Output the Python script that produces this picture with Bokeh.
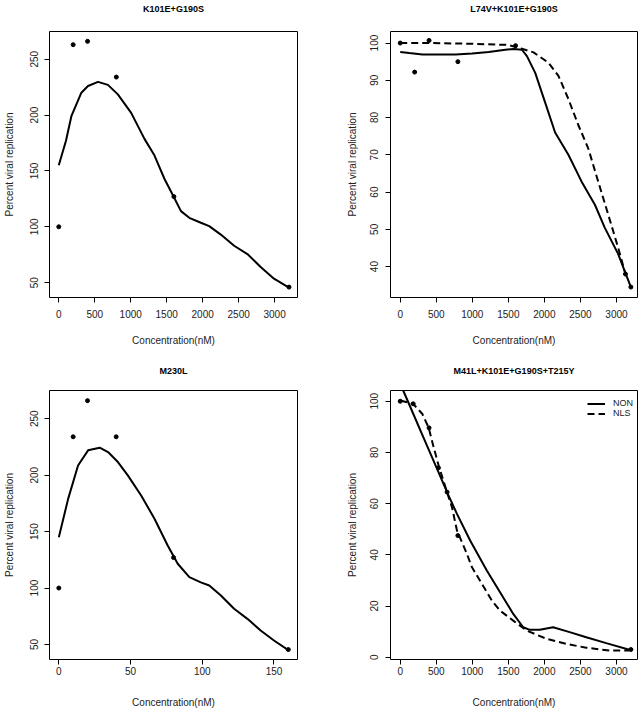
from bokeh.plotting import figure
from bokeh.layouts import column, row
from bokeh.models import Range1d, FixedTicker, Legend, LegendItem, Title
from bokeh.embed import file_html
from bokeh.resources import INLINE

# ---------------- data ----------------
# Panel 1: K101E+G190S
k101e_conc = [0, 200, 400, 800, 1600, 3200]
k101e_pct = [100, 263, 266, 234, 127, 46]
k101e_fit_x = [0, 100, 175, 314, 406, 545, 683, 821, 1006, 1191, 1329, 1468, 1606,
               1698, 1814, 1975, 2091, 2252, 2437, 2622, 2806, 2991, 3200]
k101e_fit_y = [155, 177, 199, 220, 226, 229.7, 227, 218.5, 202, 178.7, 164, 143, 125.7,
               114, 108, 103.6, 100.6, 93, 83, 75.6, 64, 53.5, 45.5]

# Panel 2: L74V+K101E+G190S
l74v_conc = [0, 200, 400, 800, 1600, 3125, 3200]
l74v_pct = [100, 92.2, 100.7, 95, 99.3, 38, 34.5]
l74v_non_x = [0, 124, 308, 768, 998, 1228, 1459, 1574, 1689, 1758, 1873, 2011, 2149,
              2333, 2517, 2701, 2839, 3023, 3200]
l74v_non_y = [97.6, 97.3, 96.9, 96.9, 97.2, 97.6, 98.2, 98.4, 98.2, 96.5, 92, 84, 76,
              70, 62.8, 56.6, 50.4, 43.4, 34.5]
l74v_nls_x = [0, 400, 1000, 1500, 1700, 1850, 2057, 2195, 2333, 2471, 2609, 2747, 2885,
              3023, 3125]
l74v_nls_y = [100, 100, 99.8, 99.5, 98.4, 97.5, 94.7, 91.2, 85, 78, 71.7, 62.8, 54,
              45.1, 38]

# Panel 3: M230L
m230l_conc = [0, 10, 20, 40, 80, 160]
m230l_pct = [100, 234, 266, 234, 127, 45.5]
m230l_fit_x = [0, 6.5, 13.4, 20.4, 28.5, 34.3, 41.2, 48.1, 57.4, 66.7, 75.9, 82.9, 91,
               99, 104.9, 113, 122.2, 131.5, 140.7, 150, 160]
m230l_fit_y = [145, 179, 208.6, 222, 224.3, 220.5, 211.6, 199.8, 182, 161.4, 137.7,
               121.5, 109.7, 105, 102.3, 93.4, 81.6, 72.7, 62.4, 53.5, 45]

# Panel 4: M41L+K101E+G190S+T215Y
m41l_conc = [0, 180, 400, 530, 650, 800, 3200]
m41l_pct = [100, 99, 89.6, 74, 64.5, 47.5, 3]
m41l_non_x = [0, 41, 170, 308, 511, 671, 787, 970, 1201, 1385, 1568, 1706, 1799, 1937,
              2121, 2351, 2581, 2858, 3179]
m41l_non_y = [105.7, 104.2, 95.8, 86.8, 73.6, 63.1, 56, 45.6, 33.9, 25.4, 16.9, 11.7,
              10.7, 10.7, 11.7, 9.8, 7.8, 5.5, 2.9]
m41l_nls_x = [0, 179, 308, 395, 464, 533, 649, 718, 787, 925, 994, 1136, 1274, 1385,
              1568, 1753, 2029, 2305, 2581, 2903, 3179]
m41l_nls_y = [100.3, 99, 95, 89.6, 82, 74.9, 64.5, 58.6, 49.5, 40.4, 35.2, 28.5, 22,
              18.2, 14.3, 10.4, 7.2, 5.2, 3.7, 2.6, 2.6]

conc_ticks = [0, 500, 1000, 1500, 2000, 2500, 3000]
m230l_ticks = [0, 50, 100, 150]
ticks_250 = [50, 100, 150, 200, 250]
ticks_l74v = [40, 50, 60, 70, 80, 90, 100]
ticks_m41l = [0, 20, 40, 60, 80, 100]

titles = ["K101E+G190S", "L74V+K101E+G190S", "M230L", "M41L+K101E+G190S+T215Y"]
x_label = "Concentration(nM)"
y_label = "Percent viral replication"
legend_labels = ["NON", "NLS"]

FONT = "Liberation Sans"
DASH = "7 4"


def make(title, w, h, bl, br, bt, bb, xr, yr, xt, yt, left_col, spacer_px):
    p = figure(width=w, height=h, output_backend="svg", toolbar_location=None,
               x_range=Range1d(*xr), y_range=Range1d(*yr),
               min_border_left=bl, min_border_right=br,
               min_border_top=bt, min_border_bottom=bb, title=title)
    p.grid.visible = False
    p.outline_line_color = "black"
    p.outline_line_width = 1
    p.outline_line_alpha = 1
    p.background_fill_color = "white"
    p.border_fill_color = "white"
    p.title.text_font = FONT
    p.title.text_font_size = "9px"
    p.title.text_font_style = "bold"
    p.title.text_color = "black"
    p.title.align = "center"
    p.title.standoff = 2
    # empty spacer between the frame and the title
    p.add_layout(Title(text=" ", text_font=FONT, text_font_size=f"{spacer_px}px",
                       standoff=0), "above")
    for ax in (p.xaxis[0], p.yaxis[0]):
        ax.axis_line_color = None
        ax.major_tick_line_color = "black"
        ax.major_tick_out = 5
        ax.major_tick_in = 0
        ax.minor_tick_line_color = None
        ax.major_label_text_font = FONT
        ax.major_label_text_font_size = "10px"
        ax.major_label_text_color = "#222222"
        ax.axis_label_text_font = FONT
        ax.axis_label_text_font_size = "10px"
        ax.axis_label_text_font_style = "normal"
        ax.axis_label_text_color = "#222222"
    p.xaxis[0].ticker = FixedTicker(ticks=xt)
    p.yaxis[0].ticker = FixedTicker(ticks=yt)
    p.yaxis[0].major_label_orientation = "vertical"
    p.xaxis[0].axis_label = x_label
    p.yaxis[0].axis_label = y_label
    if left_col:
        p.yaxis[0].major_label_standoff = 6
        p.yaxis[0].axis_label_standoff = 13
    else:
        p.yaxis[0].major_label_standoff = 7
        p.yaxis[0].axis_label_standoff = 10
    return p


xr_left = (-129, 3318)
xr_right = (-135, 3292)

p1 = make(titles[0], 322, 355, 48, 25, 29, 58, xr_left, (36.7, 274.8),
          conc_ticks, ticks_250, True, 13)
p1.xaxis[0].major_label_standoff = 7
p1.xaxis[0].axis_label_standoff = 14
p1.line(k101e_fit_x, k101e_fit_y, line_color="black", line_width=2)
p1.scatter(k101e_conc, k101e_pct, size=4, color="black")

p2 = make(titles[1], 322, 355, 68, 7, 29, 58, xr_right, (31.7, 103.1),
          conc_ticks, ticks_l74v, False, 13)
p2.xaxis[0].major_label_standoff = 7
p2.xaxis[0].axis_label_standoff = 14
p2.line(l74v_non_x, l74v_non_y, line_color="black", line_width=2)
p2.line(l74v_nls_x, l74v_nls_y, line_color="black", line_width=2, line_dash=DASH)
p2.scatter(l74v_conc, l74v_pct, size=4, color="black")

p3 = make(titles[2], 322, 355, 48, 25, 35, 51, (-6.5, 166.4), (36.7, 275.0),
          m230l_ticks, ticks_250, True, 11)
p3.xaxis[0].major_label_standoff = 2
p3.xaxis[0].axis_label_standoff = 19
p3.line(m230l_fit_x, m230l_fit_y, line_color="black", line_width=2)
p3.scatter(m230l_conc, m230l_pct, size=4, color="black")

p4 = make(titles[3], 322, 355, 68, 7, 35, 51, xr_right, (-0.9, 104.2),
          conc_ticks, ticks_m41l, False, 11)
p4.xaxis[0].major_label_standoff = 2
p4.xaxis[0].axis_label_standoff = 19
r_non = p4.line(m41l_non_x, m41l_non_y, line_color="black", line_width=2)
r_nls = p4.line(m41l_nls_x, m41l_nls_y, line_color="black", line_width=2, line_dash=DASH)
p4.scatter(m41l_conc, m41l_pct, size=4, color="black")

legend = Legend(items=[LegendItem(label=legend_labels[0], renderers=[r_non]),
                       LegendItem(label=legend_labels[1], renderers=[r_nls])],
                location=(197, 241))
legend.border_line_color = None
legend.background_fill_alpha = 0
legend.label_text_font = FONT
legend.label_text_font_size = "9px"
legend.label_text_color = "#222222"
legend.label_text_line_height = 1.0
legend.glyph_width = 18
legend.glyph_height = 9
legend.label_height = 9
legend.label_standoff = 8
legend.spacing = 0
legend.padding = 2
legend.margin = 0
p4.add_layout(legend)

layout = column(row(p1, p2), row(p3, p4))

with open("out.html", "w") as f:
    f.write(file_html(layout, INLINE))
